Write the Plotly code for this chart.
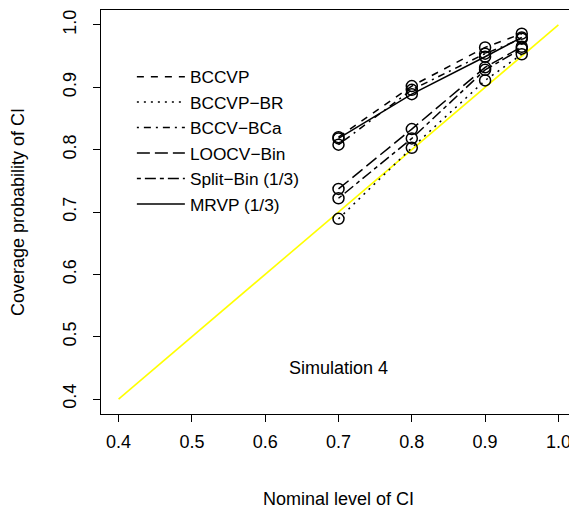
import plotly.graph_objects as go

nominal = [0.7, 0.8, 0.9, 0.95]
series_names = ["BCCVP", "BCCVP\u2212BR", "BCCV\u2212BCa", "LOOCV\u2212Bin", "Split\u2212Bin (1/3)", "MRVP (1/3)"]
bccvp = [0.820, 0.902, 0.964, 0.986]
bccvp_br = [0.689, 0.803, 0.911, 0.953]
bccv_bca = [0.808, 0.896, 0.954, 0.978]
loocv_bin = [0.737, 0.833, 0.932, 0.965]
split_bin = [0.722, 0.818, 0.928, 0.962]
mrvp = [0.818, 0.889, 0.949, 0.980]
diag = [0.4, 1.0]

series_values = [bccvp, bccvp_br, bccv_bca, loocv_bin, split_bin, mrvp]
dashes = ["7px,7px", "2px,5px", "2px,5px,7px,5px", "13px,5px", "4px,4px,11px,4px", "solid"]

FONT = "Liberation Sans, Arial, sans-serif"
FS = 18

fig = go.Figure()

# identity line
fig.add_trace(go.Scatter(x=diag, y=diag, mode="lines",
                         line=dict(color="#FFFF00", width=1.6),
                         showlegend=False, hoverinfo="skip"))

for i, (name, vals, dash) in enumerate(zip(series_names, series_values, dashes)):
    fig.add_trace(go.Scatter(x=nominal, y=vals, mode="lines", name=name,
                             line=dict(color="black", width=1.5, dash=dash)))
for i, vals in enumerate(series_values):
    fig.add_trace(go.Scatter(x=nominal, y=vals, mode="markers", showlegend=False,
                             marker=dict(symbol="circle-open", size=11, color="black",
                                         line=dict(width=1.5, color="black"))))

fig.add_annotation(x=0.7, y=0.45, xref="x", yref="y", text="Simulation 4",
                   showarrow=False, font=dict(size=FS, color="black", family=FONT))

ticks = [0.4, 0.5, 0.6, 0.7, 0.8, 0.9, 1.0]
ticktext = ["0.4", "0.5", "0.6", "0.7", "0.8", "0.9", "1.0"]

axis_common = dict(range=[0.376, 1.024], showgrid=False, zeroline=False,
                   showline=True, mirror=True, linecolor="black", linewidth=1,
                   ticks="outside", ticklen=7, tickwidth=1, tickcolor="black",
                   tickvals=ticks, ticktext=ticktext, automargin=False,
                   tickfont=dict(size=FS, color="black", family=FONT))

fig.update_xaxes(**axis_common, ticklabelstandoff=4,
                 title=dict(text="Nominal level of CI", font=dict(size=FS, color="black", family=FONT), standoff=41))
fig.update_yaxes(**axis_common, tickangle=-90, ticklabelstandoff=10,
                 title=dict(text="Coverage probability of CI", font=dict(size=FS, color="black", family=FONT), standoff=30))

# page body has an 8px margin, so the figure is sized to fit the 577x512 window
fig.update_layout(
    width=569, height=504,
    margin=dict(l=93, r=1, t=2, b=98),
    plot_bgcolor="white", paper_bgcolor="white",
    font=dict(family=FONT, size=FS, color="black"),
    legend=dict(x=0.065, y=0.879, xanchor="left", yanchor="top",
                bgcolor="rgba(0,0,0,0)", borderwidth=0,
                traceorder="normal",
                itemwidth=48, font=dict(size=17.3, family=FONT)),
)

fig.write_html("out.html")
